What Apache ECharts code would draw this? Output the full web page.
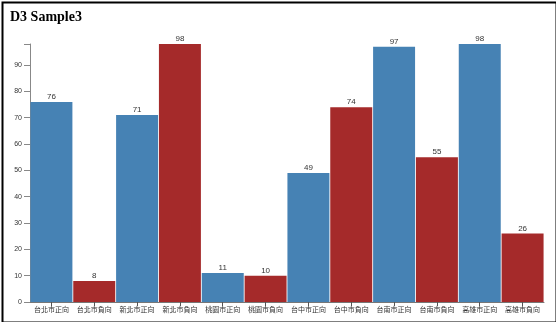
<!DOCTYPE html>
<html>
<head>
<meta charset="utf-8">
<script src="https://cdn.jsdelivr.net/npm/echarts@6/dist/echarts.min.js"></script>
<style>
html,body{margin:0;padding:0;background:#fff;}
#c{width:556px;height:322px;}
</style>
</head>
<body>
<div id="c"></div>
<script>
const categories = ['台北市正向','台北市負向','新北市正向','新北市負向','桃園市正向','桃園市負向','台中市正向','台中市負向','台南市正向','台南市負向','高雄市正向','高雄市負向'];
const values = [76, 8, 71, 98, 11, 10, 49, 74, 97, 55, 98, 26];
const barColors = ['#4682b4','#a52a2a'];
const yTicks = [0,10,20,30,40,50,60,70,80,90];

const chart = echarts.init(document.getElementById('c'), null, {renderer:'canvas'});
chart.setOption({
  animation: false,
  backgroundColor: '#fff',
  title: {
    text: 'D3 Sample3',
    left: 5, top: 5,
    textStyle: {fontFamily: '"Liberation Serif", "Times New Roman", serif', fontWeight: 'bold', fontSize: 14, color: '#000'}
  },
  graphic: [{
    type: 'rect', left: 0, top: 0,
    shape: {x: 1, y: 1, width: 554, height: 320},
    style: {fill: 'none', stroke: '#000', lineWidth: 2},
    silent: true
  }],
  grid: {left: 30, right: 12, top: 44, bottom: 20, containLabel: false},
  xAxis: {
    type: 'category',
    data: categories,
    axisLine: {show: true, lineStyle: {color: '#777', width: 1}},
    axisTick: {show: true, alignWithLabel: true, length: 4, lineStyle: {color: '#555'}},
    axisLabel: {fontSize: 7, color: '#333', margin: 4, interval: 0, fontFamily: '"Noto Sans CJK TC", sans-serif'}
  },
  yAxis: {
    type: 'value',
    min: 0, max: 98, interval: 10,
    splitLine: {show: false},
    axisLine: {show: true, lineStyle: {color: '#888', width: 1}},
    axisTick: {show: true, length: 6, lineStyle: {color: '#888'}},
    axisLabel: {
      fontSize: 7, color: '#333', margin: 8,
      fontFamily: '"Liberation Sans", Arial, sans-serif',
      formatter: function(v){ return yTicks.indexOf(v) >= 0 ? String(v) : ''; }
    }
  },
  series: [{
    type: 'bar',
    data: values.map((v,i)=>({value: v, itemStyle: {color: barColors[i%2]}})),
    barCategoryGap: '2%',
    label: {show: true, position: 'top', distance: 1, fontSize: 8, color: '#333', fontFamily: '"Liberation Sans", Arial, sans-serif'}
  }]
});
</script>
</body>
</html>
